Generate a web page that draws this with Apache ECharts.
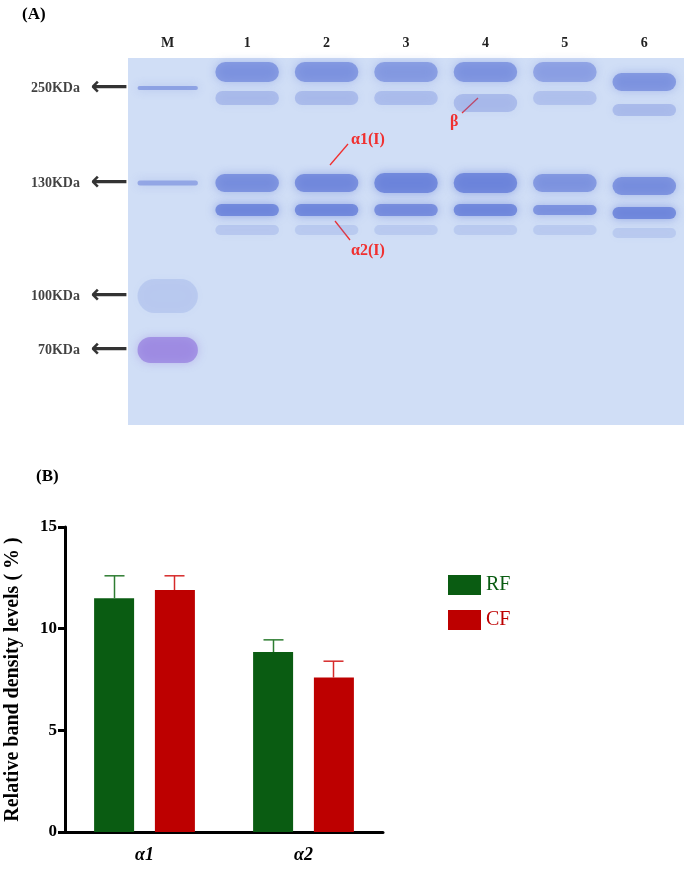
<!DOCTYPE html>
<html><head><meta charset="utf-8">
<script src="https://cdn.jsdelivr.net/npm/echarts@6/dist/echarts.min.js"></script>
<style>html,body{margin:0;background:#fff}#c{width:691px;height:875px}</style>
</head><body><div id="c"></div>
<script>
// gel lanes and bands (migration position in gel px from top)
const lanes = ['M', '1', '2', '3', '4', '5', '6'];
// [laneIndex, position, thickness, opacity]
const bands = [
  [0, 30, 4, 0.55], [0, 125, 5, 0.5], [0, 238, 34, 0.18], [0, 292, 26, 0.6],
  [1, 14, 20, 0.6], [1, 40, 14, 0.3], [1, 125, 18, 0.65], [1, 152, 12, 0.75], [1, 172, 10, 0.2],
  [2, 14, 20, 0.6], [2, 40, 14, 0.3], [2, 125, 18, 0.7], [2, 152, 12, 0.75], [2, 172, 10, 0.18],
  [3, 14, 20, 0.55], [3, 40, 14, 0.28], [3, 125, 20, 0.75], [3, 152, 12, 0.7], [3, 172, 10, 0.18],
  [4, 14, 20, 0.6], [4, 45, 18, 0.3], [4, 125, 20, 0.75], [4, 152, 12, 0.75], [4, 172, 10, 0.18],
  [5, 14, 20, 0.5], [5, 40, 14, 0.25], [5, 125, 18, 0.6], [5, 152, 10, 0.65], [5, 172, 10, 0.18],
  [6, 24, 18, 0.6], [6, 52, 12, 0.3], [6, 128, 18, 0.65], [6, 155, 12, 0.75], [6, 175, 10, 0.18]
];
const markerLabels = ['250KDa', '130KDa', '100KDa', '70KDa'];
const markerPos = [30, 125, 238, 292];

// densitometry
const groups = ['α1', 'α2'];
const rf = [11.5, 8.85];
const rfErr = [1.1, 0.6];
const cf = [11.9, 7.6];
const cfErr = [0.7, 0.8];

const serif = 'Liberation Serif';

function bandItem(params, api) {
  const lane = api.value(0);
  const c = api.coord([lane, api.value(1)]);
  const w = api.size([1, 0])[0] * 0.8 * (lane === 0 ? 0.95 : 1);
  const h = api.value(2);
  const a = api.value(3);
  const col = lane === 0 && api.value(1) > 280 ? 'rgba(140,110,220,' + a + ')' : 'rgba(95,120,215,' + a + ')';
  return {
    type: 'rect',
    shape: { x: c[0] - w / 2, y: c[1] - h / 2, width: w, height: h, r: h / 2 },
    style: { fill: col, shadowBlur: 10, shadowColor: col }
  };
}

function errItem(offset) {
  return function (params, api) {
    const top = api.coord([api.value(0), api.value(1) + api.value(2)]);
    const base = api.coord([api.value(0), api.value(1)]);
    const x = top[0] + offset;
    const color = api.visual('color');
    return {
      type: 'group',
      children: [
        { type: 'line', shape: { x1: x, y1: base[1], x2: x, y2: top[1] }, style: { stroke: color, lineWidth: 1.5 } },
        { type: 'line', shape: { x1: x - 10, y1: top[1], x2: x + 10, y2: top[1] }, style: { stroke: color, lineWidth: 1.5 } }
      ]
    };
  };
}

const chart = echarts.init(document.getElementById('c'));
chart.setOption({
  animation: false,
  textStyle: { fontFamily: serif },
  grid: [
    { left: 128, top: 58, width: 556, height: 367, backgroundColor: '#d0def6', show: true, borderWidth: 0 },
    { left: 65, top: 527, width: 318, height: 305 }
  ],
  xAxis: [
    {
      gridIndex: 0, type: 'category', data: lanes, position: 'top',
      axisLine: { show: false }, axisTick: { show: false },
      axisLabel: { fontFamily: serif, fontWeight: 'bold', fontSize: 14, color: '#222', margin: 8 }
    },
    {
      gridIndex: 1, type: 'category', data: groups,
      axisLine: { lineStyle: { color: '#000', width: 3 } },
      axisTick: { alignWithLabel: true, length: 9, lineStyle: { width: 3, color: '#000' } },
      axisLabel: { fontFamily: serif, fontWeight: 'bold', fontStyle: 'italic', fontSize: 18, color: '#000', margin: 14 }
    }
  ],
  yAxis: [
    { gridIndex: 0, type: 'value', min: 0, max: 367, inverse: true, show: false },
    {
      gridIndex: 1, type: 'value', min: 0, max: 15, interval: 5,
      name: 'Relative band density levels ( % )', nameLocation: 'middle', nameGap: 42,
      nameTextStyle: { fontFamily: serif, fontWeight: 'bold', fontSize: 20, color: '#000' },
      splitLine: { show: false },
      axisLine: { show: true, lineStyle: { color: '#000', width: 3 } },
      axisTick: { show: true, length: 7, lineStyle: { width: 3, color: '#000' } },
      axisLabel: { fontFamily: serif, fontWeight: 'bold', fontSize: 17, color: '#000', margin: 8 }
    }
  ],
  legend: {
    left: 443, top: 570, orient: 'vertical', icon: 'rect', itemWidth: 33, itemHeight: 20, itemGap: 15,
    data: ['RF', 'CF'],
    textStyle: { fontFamily: serif, fontSize: 20, color: 'inherit' }
  },
  series: [
    {
      type: 'custom', xAxisIndex: 0, yAxisIndex: 0, renderItem: bandItem,
      data: bands, silent: true
    },
    {
      type: 'scatter', xAxisIndex: 0, yAxisIndex: 0, symbolSize: 0, silent: true,
      data: markerPos.map((p, i) => ({ value: [0, p], name: markerLabels[i] })),
      label: {
        show: true, position: 'left', distance: 0, offset: [-40, 0],
        formatter: p => p.name + '   {a|\u27F5}',
        fontFamily: serif, fontWeight: 'bold', fontSize: 14, color: '#111',
        rich: { a: { fontSize: 26, color: '#000', fontFamily: 'DejaVu Sans' } }
      }
    },
    {
      name: 'RF', type: 'bar', xAxisIndex: 1, yAxisIndex: 1, data: rf,
      barWidth: 40, barGap: '52%', itemStyle: { color: '#0a5c12' }
    },
    {
      name: 'CF', type: 'bar', xAxisIndex: 1, yAxisIndex: 1, data: cf,
      barWidth: 40, itemStyle: { color: '#bd0000' }
    },
    {
      type: 'custom', xAxisIndex: 1, yAxisIndex: 1, renderItem: errItem(-30),
      itemStyle: { color: '#2e7d32' }, data: rf.map((v, i) => [i, v, rfErr[i]]), z: 1
    },
    {
      type: 'custom', xAxisIndex: 1, yAxisIndex: 1, renderItem: errItem(30),
      itemStyle: { color: '#d62a2a' }, data: cf.map((v, i) => [i, v, cfErr[i]]), z: 1
    }
  ],
  graphic: [
    { type: 'text', left: 22, top: 6, style: { text: '(A)', font: 'bold 17px "Liberation Serif"', fill: '#000' } },
    { type: 'text', left: 36, top: 468, style: { text: '(B)', font: 'bold 17px "Liberation Serif"', fill: '#000' } },
    { type: 'line', shape: { x1: 330, y1: 165, x2: 348, y2: 144 }, style: { stroke: '#f03030', lineWidth: 1.3 } },
    { type: 'text', left: 351, top: 132, style: { text: 'α1(I)', font: 'bold 16px "Liberation Serif"', fill: '#f03030' } },
    { type: 'line', shape: { x1: 335, y1: 221, x2: 350, y2: 240 }, style: { stroke: '#f03030', lineWidth: 1.3 } },
    { type: 'text', left: 351, top: 243, style: { text: 'α2(I)', font: 'bold 16px "Liberation Serif"', fill: '#f03030' } },
    { type: 'line', shape: { x1: 478, y1: 98, x2: 462, y2: 113 }, style: { stroke: '#f03030', lineWidth: 1.3 } },
    { type: 'text', left: 450, top: 114, style: { text: 'β', font: 'bold 16px "Liberation Serif"', fill: '#f03030' } }
  ]
});
</script></body></html>
